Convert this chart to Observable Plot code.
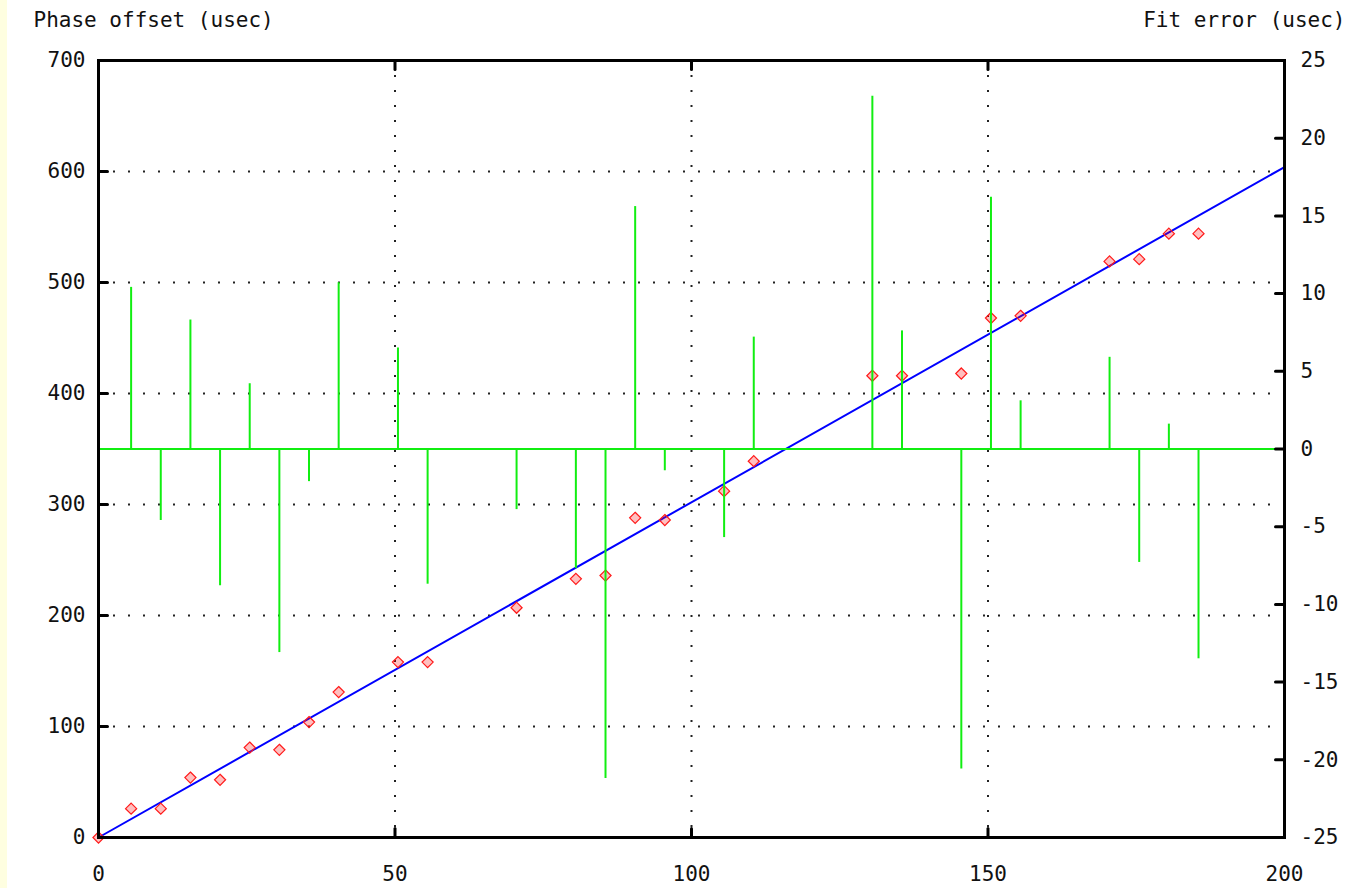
<!DOCTYPE html>
<html>
<head>
<meta charset="utf-8">
<script src="https://cdn.jsdelivr.net/npm/d3@7"></script>
<script src="https://cdn.jsdelivr.net/npm/@observablehq/plot@0.6"></script>
<style>
  html, body { margin: 0; padding: 0; background: #ffffff; }
  #wrap { position: relative; width: 1369px; height: 888px; overflow: hidden; }
  #strip { position: absolute; left: 0; top: 0; width: 7px; height: 888px; background: #fefee0; }
  #chart { position: absolute; left: 0; top: 0; }
</style>
</head>
<body>
<div id="wrap"><div id="strip"></div><div id="chart"></div></div>
<script>
// Sample times and measured phase offsets (usec)
const sampleX = [0,5.5,10.5,15.5,20.5,25.5,30.5,35.5,40.5,50.5,55.5,70.5,80.5,85.5,90.5,95.5,105.5,110.5,130.5,135.5,145.5,150.5,155.5,170.5,175.5,180.5,185.5];
const phaseOffset = [0,26,26,54,52,81,79,104,131,158,158,207,233,236,288,286,312,339,416,416,418,468,470,519,521,544,544];

// Linear fit line (endpoints)
const fitX = [0, 200];
const fitY = [0, 604];

// Fit error (usec), right axis
const errX = [5.5,10.5,15.5,20.5,25.5,30.5,35.5,40.5,50.5,55.5,70.5,80.5,85.5,90.5,95.5,105.5,110.5,130.5,135.5,145.5,150.5,155.5,170.5,175.5,180.5,185.5];
const fitError = [10.4,-4.6,8.3,-8.8,4.2,-13.1,-2.1,10.7,6.5,-8.7,-3.9,-7.7,-21.2,15.6,-1.4,-5.7,7.2,22.7,7.6,-20.6,16.2,3.1,5.9,-7.3,1.6,-13.5];

// Tick labels
const xTicks = [0, 50, 100, 150, 200];
const yTicks = [0, 100, 200, 300, 400, 500, 600, 700];
const errTicks = [-25, -20, -15, -10, -5, 0, 5, 10, 15, 20, 25];
const gridXTicks = [50, 100, 150];
const gridYTicks = [100, 200, 300, 400, 500, 600];

const leftLabel = "Phase offset (usec)";
const rightLabel = "Fit error (usec)";

// map right-axis (error) values onto the left scale
const errMin = -25, errMax = 25, yMax = 700;
const k = yMax / (errMax - errMin);
const toY = e => (e - errMin) * k;

const points = sampleX.map((x, i) => ({x, y: phaseOffset[i]}));
const fit = fitX.map((x, i) => ({x, y: fitY[i]}));
const errs = errX.map((x, i) => ({x, e: fitError[i]}));

const green = "#11ee11";
const T = 9; // tick length (px)
const tickShape = {draw(ctx, l) { ctx.moveTo(0, 0); ctx.lineTo(0, -l); }};
const tickOpts = {length: T, anchor: "start", shape: tickShape, stroke: "#000", strokeWidth: 3};

const chart = Plot.plot({
  width: 1369,
  height: 888,
  marginLeft: 98,
  marginRight: 85,
  marginTop: 60,
  marginBottom: 51,
  style: {fontFamily: "'DejaVu Sans Mono', monospace", fontSize: "21px", color: "#111", background: "transparent"},
  x: {domain: [0, 200], nice: false},
  y: {domain: [0, 700], nice: false},
  marks: [
    Plot.gridX(gridXTicks, {stroke: "#222", strokeOpacity: 1, strokeWidth: 2, strokeDasharray: "2,13"}),
    Plot.gridY(gridYTicks, {stroke: "#222", strokeOpacity: 1, strokeWidth: 2, strokeDasharray: "2,13"}),
    Plot.line(fit, {x: "x", y: "y", stroke: "#0000ff", strokeWidth: 2}),
    Plot.dot(points, {x: "x", y: "y", symbol: "diamond2", r: 5, stroke: "#ff1a1a", strokeWidth: 1.2, fill: "rgba(255,0,0,0.25)"}),
    Plot.ruleY([0], {y: () => toY(0), stroke: green, strokeWidth: 2}),
    Plot.ruleX(errs, {x: "x", y1: () => toY(0), y2: d => toY(d.e), stroke: green, strokeWidth: 2}),
    // inward tick marks
    Plot.vector(yTicks, {x: () => 0, y: d => d, rotate: 90, ...tickOpts}),
    Plot.vector(errTicks, {x: () => 200, y: d => toY(d), rotate: -90, ...tickOpts}),
    Plot.vector(xTicks, {x: d => d, y: () => 0, rotate: 0, ...tickOpts}),
    Plot.vector(xTicks, {x: d => d, y: () => 700, rotate: 180, ...tickOpts}),
    // tick labels
    Plot.axisY({anchor: "left", ticks: yTicks, tickSize: 0, tickPadding: 13, label: null, tickFormat: d => String(d)}),
    Plot.axisY({anchor: "right", ticks: errTicks.map(toY), tickSize: 0, tickPadding: 16, label: null, tickFormat: d => String(Math.round(d / k + errMin))}),
    Plot.axisX({anchor: "bottom", ticks: xTicks, tickSize: 0, tickPadding: 29, label: null, tickFormat: d => String(d)}),
    Plot.frame({stroke: "#000", strokeWidth: 3}),
    // axis titles
    Plot.text([leftLabel], {frameAnchor: "top-left", dx: -65, dy: -40, textAnchor: "start", lineAnchor: "middle", fill: "#111"}),
    Plot.text([rightLabel], {frameAnchor: "top-right", dx: 61, dy: -40, textAnchor: "end", lineAnchor: "middle", fill: "#111"})
  ]
});
document.getElementById("chart").appendChild(chart);
</script>
</body>
</html>
